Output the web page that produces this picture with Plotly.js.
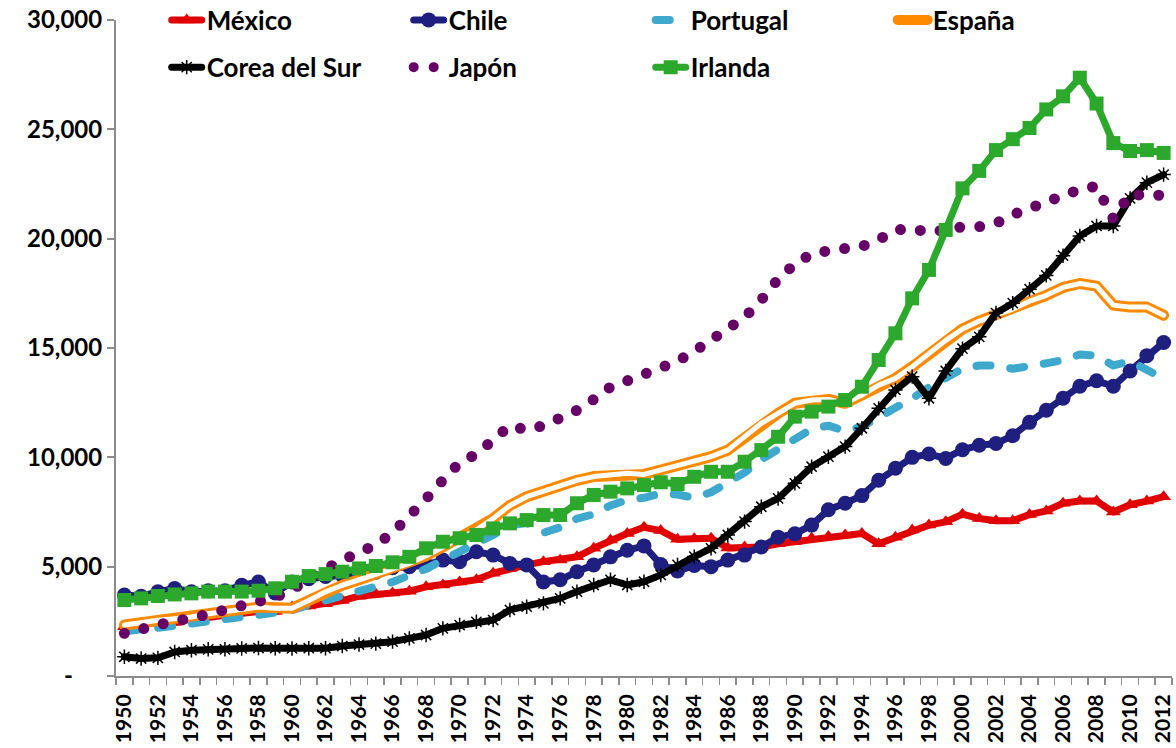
<!DOCTYPE html>
<html><head><meta charset="utf-8">
<script src="https://cdn.plot.ly/plotly-3.0.1.min.js"></script>
<style>
html,body{margin:0;padding:0;background:#fff;}
#chart{width:1176px;height:748px;}
.js-plotly-plot path.js-line{stroke-linecap:round;stroke-linejoin:round;}
</style></head><body><div id="chart"></div>
<script>
const years = [1950,1951,1952,1953,1954,1955,1956,1957,1958,1959,
  1960,1961,1962,1963,1964,1965,1966,1967,1968,1969,
  1970,1971,1972,1973,1974,1975,1976,1977,1978,1979,
  1980,1981,1982,1983,1984,1985,1986,1987,1988,1989,
  1990,1991,1992,1993,1994,1995,1996,1997,1998,1999,
  2000,2001,2002,2003,2004,2005,2006,2007,2008,2009,
  2010,2011,2012];

const mexico = [2250,2400,2450,2450,2600,2700,2800,2900,2950,2950,
  3150,3200,3300,3450,3650,3750,3800,3880,4080,4160,
  4300,4400,4700,4920,5080,5230,5300,5450,5840,6220,
  6520,6800,6650,6250,6280,6300,5850,5900,5900,6050,
  6150,6300,6380,6450,6520,6050,6350,6680,6900,7050,
  7400,7200,7100,7100,7380,7550,7900,8000,8000,7500,
  7830,8000,8200];

const chile = [3700,3650,3850,4000,3850,3900,3900,4150,4300,3800,
  4300,4450,4550,4600,4700,4750,4950,5000,5080,5300,
  5230,5680,5530,5150,5080,4300,4400,4770,5080,5450,
  5750,5950,5100,4800,5050,5000,5300,5530,5900,6350,
  6500,6900,7600,7900,8250,8950,9500,10000,10150,9950,
  10350,10550,10630,10990,11600,12150,12700,13250,13500,13250,
  13950,14650,15250];

const portugal = [2050,2100,2200,2300,2400,2500,2600,2700,2750,2900,
  3000,3250,3450,3650,3850,4100,4300,4600,4900,5300,
  5650,6000,6450,6900,7000,6550,6800,7200,7400,7800,
  8050,8150,8350,8300,8150,8400,8800,9300,9900,10400,
  10900,11300,11450,11200,11400,11800,12200,12700,13200,13650,
  14050,14200,14200,14050,14150,14300,14450,14700,14650,14200,
  14400,14000,13600];

const espana = [2330,2450,2550,2620,2700,2850,2950,3050,3150,3100,
  3100,3450,3850,4150,4400,4650,4900,5150,5500,5900,
  6300,6680,7200,7800,8200,8450,8730,8950,9120,9180,
  9270,9220,9420,9600,9800,10030,10330,10940,11560,12010,
  12470,12620,12650,12470,12850,13300,13610,14140,14750,15350,
  15870,16230,16510,16780,17140,17410,17770,17950,17830,16960,
  16870,16870,16500];

const corea = [880,800,830,1100,1180,1220,1220,1260,1280,1270,
  1260,1270,1270,1370,1440,1480,1570,1720,1875,2180,
  2330,2480,2560,3020,3170,3320,3550,3860,4160,4400,
  4160,4310,4620,5080,5460,5840,6450,7060,7740,8120,
  8810,9570,10030,10490,11330,12240,13080,13690,12700,13950,
  14970,15510,16600,17050,17690,18320,19220,20120,20580,20580,
  21840,22560,22930];

const japon = [1950,2180,2360,2520,2640,2810,2990,3160,3340,3600,
  3950,4450,4900,5300,5700,6000,6550,7250,8100,8960,
  9750,10150,10850,11450,11250,11450,11800,12150,12650,13220,
  13500,13800,14150,14400,14850,15400,15800,16400,17200,18150,
  18850,19300,19450,19550,19650,19950,20400,20450,20300,20400,
  20540,20550,20700,21100,21400,21650,22000,22250,22400,20900,
  22050,21950,22000];

const irlanda = [3475,3550,3660,3730,3780,3860,3860,3860,3900,4010,
  4310,4570,4660,4770,4920,5030,5200,5450,5840,6140,
  6300,6450,6750,6980,7130,7360,7360,7900,8280,8430,
  8580,8730,8860,8780,9110,9340,9340,9800,10330,10940,
  11860,12090,12320,12620,13230,14450,15670,17270,18570,20400,
  22300,23100,24050,24550,25060,25910,26510,27360,26180,24370,
  24010,24050,23920];

const seriesNames = ['México','Chile','Portugal','España','Corea del Sur','Japón','Irlanda'];

const xTickVals = [1950,1952,1954,1956,1958,1960,1962,1964,1966,1968,1970,1972,1974,1976,1978,1980,
  1982,1984,1986,1988,1990,1992,1994,1996,1998,2000,2002,2004,2006,2008,2010,2012];
const xTickLabels = ['1950','1952','1954','1956','1958','1960','1962','1964','1966','1968','1970','1972','1974','1976','1978','1980',
  '1982','1984','1986','1988','1990','1992','1994','1996','1998','2000','2002','2004','2006','2008','2010','2012'];
const yTickVals = [0,5000,10000,15000,20000,25000,30000];
const yTickLabels = ['-\u00a0\u00a0\u00a0\u00a0\u00a0','5,000','10,000','15,000','20,000','25,000','30,000'];

const FONT = 'Lato, "Open Sans", sans-serif';

const traces = [
  {x: years, y: mexico, name: seriesNames[0], mode: 'lines+markers', legend: 'legend',
   line: {color: '#E00000', width: 7},
   marker: {symbol: 'triangle-up', size: 13, color: '#E00000'}},
  {x: years, y: chile, name: seriesNames[1], mode: 'lines+markers', legend: 'legend',
   line: {color: '#1F1F80', width: 7},
   marker: {symbol: 'circle', size: 15, color: '#1F1F80'}},
  {x: years, y: portugal, name: seriesNames[2], mode: 'lines', legend: 'legend',
   line: {color: '#3FA9CD', width: 8, dash: '14px,20px'}},
  {x: years, y: espana, name: seriesNames[3], mode: 'lines', legend: 'legend',
   line: {color: '#FF8A00', width: 11}},
  {x: years, y: espana, name: seriesNames[3], mode: 'lines', showlegend: false, hoverinfo: 'skip',
   line: {color: '#FFFFFF', width: 5}},
  {x: years, y: corea, name: seriesNames[4], mode: 'lines+markers', legend: 'legend2',
   line: {color: '#000000', width: 7},
   marker: {symbol: 'asterisk-open', size: 12, color: '#000000', line: {color: '#000000', width: 1.5}}},
  {x: years, y: japon, name: seriesNames[5], mode: 'lines', legend: 'legend2',
   line: {color: '#660066', width: 11, dash: '0px,20px'}},
  {x: years, y: irlanda, name: seriesNames[6], mode: 'lines+markers', legend: 'legend2',
   line: {color: '#2CA82C', width: 7},
   marker: {symbol: 'square', size: 14, color: '#2CA82C'}}
];

const legendCommon = {
  orientation: 'h', xanchor: 'left', yanchor: 'middle', x: 0.048,
  entrywidth: 197, bgcolor: 'rgba(0,0,0,0)', borderwidth: 0,
  font: {family: FONT, size: 26, color: '#000', weight: 'bold'}
};

const layout = {
  width: 1176, height: 748,
  margin: {l: 116, r: 4, t: 20, b: 72, autoexpand: false},
  paper_bgcolor: '#ffffff', plot_bgcolor: '#ffffff',
  font: {family: FONT, size: 24, color: '#000', weight: 'bold'},
  showlegend: true,
  legend: Object.assign({}, legendCommon, {y: 1.0}),
  legend2: Object.assign({}, legendCommon, {y: 0.928}),
  xaxis: {
    type: 'linear', range: [1949.5, 2012.5], fixedrange: true,
    tickmode: 'array', tickvals: xTickVals, ticktext: xTickLabels,
    tickangle: -90, ticks: '', ticklabelstandoff: 8,
    showline: true, linecolor: '#8C8C8C', linewidth: 2,
    showgrid: false, zeroline: false,
    tickfont: {family: FONT, size: 21, color: '#000', weight: 'bold'},
    minor: {tick0: 1949.5, dtick: 1, ticks: 'outside', ticklen: 7, tickwidth: 1.5, tickcolor: '#8C8C8C', showgrid: false}
  },
  yaxis: {
    range: [0, 30000], fixedrange: true,
    tickmode: 'array', tickvals: yTickVals, ticktext: yTickLabels,
    ticks: 'outside', ticklen: 7, tickwidth: 2, tickcolor: '#8C8C8C',
    showline: true, linecolor: '#8C8C8C', linewidth: 2,
    showgrid: false, zeroline: false,
    tickfont: {family: FONT, size: 24, color: '#000', weight: 'bold'}
  }
};

Plotly.newPlot('chart', traces, layout, {displayModeBar: false, staticPlot: true});
</script></body></html>
